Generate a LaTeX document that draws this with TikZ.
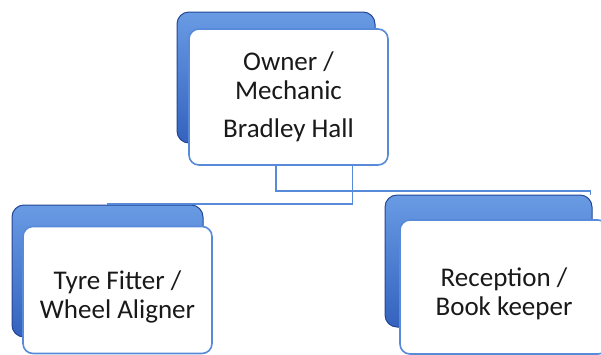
\documentclass[tikz,border=0pt]{standalone}
\usepackage{fontspec}
\setmainfont{Carlito}
\usepackage{tikz}
\definecolor{backblue}{RGB}{52,98,190}
\definecolor{backdark}{RGB}{35,70,150}
\definecolor{backlight}{RGB}{105,155,228}
\definecolor{lineblue}{RGB}{88,138,218}

\begin{document}
\begin{tikzpicture}[x=1pt, y=-1pt,
	backbox/.style={rectangle, rounded corners=12pt, draw=backdark, line width=1pt,
		top color=backlight, bottom color=backblue, inner sep=0pt},
	rolebox/.style={rectangle, rounded corners=10pt, draw=lineblue, line width=1.6pt,
		fill=white, inner sep=0pt, align=center, text=black!90,
		font=\fontsize{27}{29}\selectfont},
	link/.style={draw=lineblue, line width=1.5pt}]
	\useasboundingbox (0,0) rectangle (601,354);
	\clip (0,0) rectangle (601,354);
	% back plates
	\node[backbox, minimum width=198pt, minimum height=131pt] (ownerback) at (276,77.5) {};
	\node[backbox, minimum width=191pt, minimum height=132pt] (tyreback) at (107.5,271) {};
	\node[backbox, minimum width=207pt, minimum height=132pt] (receptionback) at (488.5,261) {};
	% front boxes
	\node[rolebox, minimum width=199pt, minimum height=136pt] (owner) at (288.5,97)
		{Owner /\\Mechanic\\[9pt]Bradley Hall};
	\node[rolebox, minimum width=189pt, minimum height=127pt] (tyre) at (117.5,290)
		{\rule{0pt}{6pt}\\[-2pt]Tyre Fitter /\\Wheel Aligner};
	\node[rolebox, minimum width=208pt, minimum height=134pt] (reception) at (504,287)
		{\rule{0pt}{6pt}\\[-2pt]Reception /\\Book keeper};
	% connectors
	\draw[link] ([xshift=64pt]owner.south) -- ++(0,38) -| (tyreback.north);
	\draw[link] (owner.south -| ownerback.center) -- ++(0,25) -| ([xshift=-2pt]receptionback.north east);
\end{tikzpicture}
\end{document}
